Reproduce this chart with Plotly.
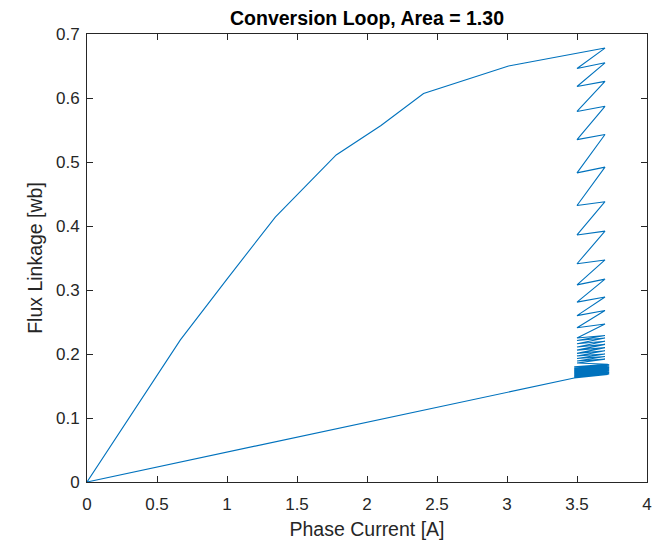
import plotly.graph_objects as go

# Rising magnetisation branch (current [A], flux linkage [Wb])
rise_current = [0.0, 0.667, 1.0, 1.345, 1.78, 2.1, 2.404, 2.7, 3.011, 3.70]
rise_flux = [0.0, 0.222, 0.317, 0.414, 0.511, 0.557, 0.607, 0.628, 0.650, 0.678]

# Current-chopping zigzag (alternating low / high current band)
chop_current = [
    3.50, 3.70, 3.50, 3.70, 3.50, 3.70, 3.50, 3.70, 3.50, 3.70,
    3.50, 3.70, 3.50, 3.70, 3.50, 3.70, 3.50, 3.70, 3.50, 3.70,
    3.50, 3.70, 3.50, 3.70, 3.50,
    3.70, 3.50, 3.70, 3.50, 3.70, 3.50, 3.70, 3.50, 3.70, 3.50,
    3.70, 3.50, 3.70, 3.50, 3.70, 3.50, 3.70, 3.50,
    3.72, 3.48, 3.73, 3.48, 3.72, 3.49, 3.73, 3.48, 3.72, 3.48,
    3.73, 3.48, 3.72, 3.48, 3.73, 3.48, 3.72, 3.48, 3.73, 3.48,
    3.72, 3.49, 3.73, 3.48, 3.72, 3.48, 3.73, 3.48, 3.72, 3.48,
    3.73, 3.48, 3.72, 3.48,
]
chop_flux = [
    0.646, 0.655, 0.618, 0.626, 0.579, 0.587, 0.535, 0.543, 0.483, 0.492,
    0.432, 0.438, 0.386, 0.392, 0.341, 0.347, 0.308, 0.317, 0.281, 0.289,
    0.260, 0.268, 0.241, 0.247, 0.225,
    0.229, 0.221, 0.225, 0.216, 0.220, 0.211, 0.215, 0.206, 0.210, 0.201,
    0.205, 0.197, 0.200, 0.193, 0.196, 0.189, 0.192, 0.186,
    0.184, 0.180, 0.183, 0.178, 0.182, 0.177, 0.181, 0.176, 0.180, 0.174,
    0.179, 0.173, 0.178, 0.172, 0.177, 0.171, 0.176, 0.170, 0.175, 0.169,
    0.174, 0.168, 0.173, 0.167, 0.172, 0.166, 0.171, 0.165, 0.170, 0.164,
    0.169, 0.163, 0.168, 0.1625,
]

# Return to origin
end_current = [0.0]
end_flux = [0.0]

x_ticks = [0, 0.5, 1, 1.5, 2, 2.5, 3, 3.5, 4]
x_tick_labels = ["0", "0.5", "1", "1.5", "2", "2.5", "3", "3.5", "4"]
y_ticks = [0, 0.1, 0.2, 0.3, 0.4, 0.5, 0.6, 0.7]
y_tick_labels = ["0", "0.1", "0.2", "0.3", "0.4", "0.5", "0.6", "0.7"]

xs = rise_current + chop_current + end_current
ys = rise_flux + chop_flux + end_flux

font = "Liberation Sans, Arial, sans-serif"
axcol = "#262626"

fig = go.Figure()
fig.add_trace(go.Scatter(x=xs, y=ys, mode="lines",
                         line=dict(color="#0072BD", width=1.1),
                         showlegend=False, hoverinfo="skip"))

axis_common = dict(showgrid=False, zeroline=False, showline=True, linecolor=axcol,
                   linewidth=1, mirror="ticks", ticks="inside", ticklen=6,
                   tickcolor=axcol, tickwidth=1, automargin=False,
                   tickfont=dict(family=font, size=17, color=axcol))

fig.update_layout(
    width=672, height=545,
    paper_bgcolor="white", plot_bgcolor="white",
    margin=dict(l=79, r=33, t=26, b=71),
    title=dict(text="<b>Conversion Loop, Area = 1.30</b>", x=0.5, xanchor="center",
               xref="paper", y=0.982, yref="container", yanchor="middle",
               font=dict(family=font, size=19.5, color="black")),
    xaxis=dict(range=[0, 4], tickvals=x_ticks, ticktext=x_tick_labels,
               ticklabelstandoff=7,
               title=dict(text="Phase Current [A]", standoff=8,
                          font=dict(family=font, size=19.5, color=axcol)),
               **axis_common),
    yaxis=dict(range=[0, 0.7], tickvals=y_ticks, ticktext=y_tick_labels,
               ticklabelstandoff=3,
               title=dict(text="Flux Linkage [wb]", standoff=8,
                          font=dict(family=font, size=19.5, color=axcol)),
               **axis_common),
)

fig.write_html("out.html")
